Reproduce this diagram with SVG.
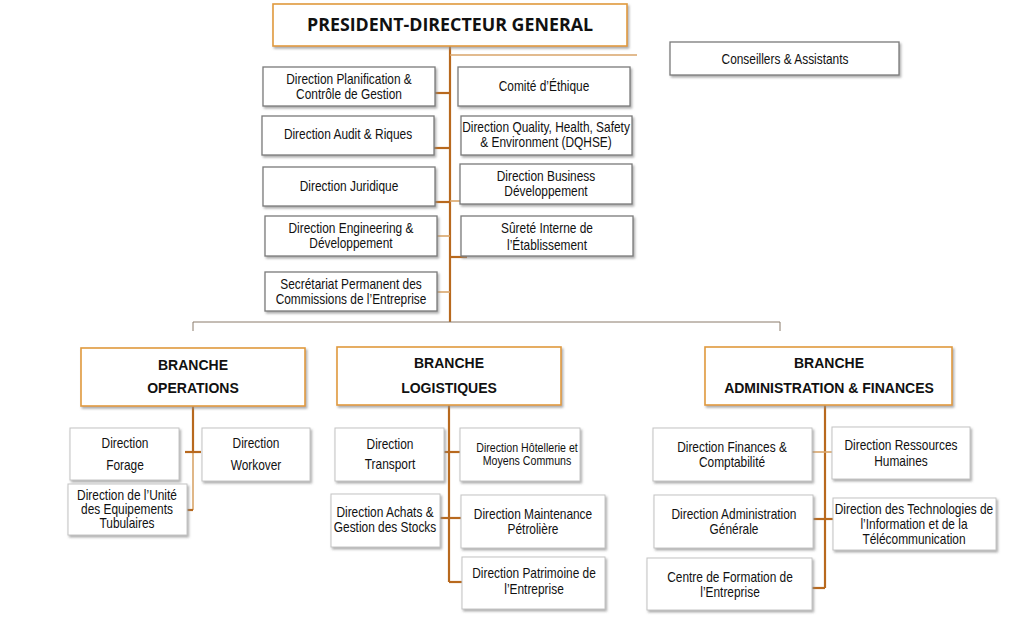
<svg xmlns="http://www.w3.org/2000/svg" width="1027" height="630" viewBox="0 0 1027 630">
<defs>
<filter id="sh" x="-10%" y="-10%" width="125%" height="140%">
<feDropShadow dx="1.5" dy="2" stdDeviation="1" flood-color="#8c8c8c" flood-opacity="0.7"/>
</filter>
<style>
.bx{fill:#fff;stroke:#7a7a7a;stroke-width:1.3;filter:url(#sh)}
.lb{fill:#fff;stroke:#c4c4c4;stroke-width:1;filter:url(#sh)}
.ob{fill:#fff;stroke:#E09A3E;stroke-width:1.6;filter:url(#sh)}
text{font-family:"Liberation Sans",Arial,sans-serif;font-size:14px;fill:#111;text-anchor:middle}
.sm{font-size:12.5px}
.bt{font-family:"Liberation Sans",Arial,sans-serif;font-weight:bold;font-size:14px}
.pt{font-family:"Open Sans","Liberation Sans",Arial,sans-serif;font-weight:bold;font-size:17px}
.tr{stroke:#B8691E;stroke-width:2.2;fill:none}
.tn{stroke:#D9A56A;stroke-width:1.6;fill:none}
.gl{stroke:#8a7a6a;stroke-width:1;fill:none}
</style>
</defs>
<g id="connectors">
<line class="tr" x1="450" y1="46" x2="450" y2="322"/>
<line class="tn" x1="450" y1="55" x2="637" y2="55"/>
<line class="tr" x1="435" y1="93" x2="450" y2="93"/>
<line class="tr" x1="434" y1="148" x2="450" y2="148"/>
<line class="tr" x1="435" y1="202" x2="450" y2="202"/>
<line class="tn" x1="450" y1="201" x2="460" y2="201"/>
<line class="tn" x1="437" y1="236" x2="450" y2="236"/>
<line class="tr" x1="450" y1="257" x2="467" y2="257"/>
<line class="tn" x1="437" y1="292" x2="450" y2="292"/>
<line class="gl" x1="193" y1="322" x2="780" y2="322"/>
<line class="gl" x1="193" y1="322" x2="193" y2="331"/>
<line class="gl" x1="780" y1="322" x2="780" y2="331"/>
<line class="tr" x1="193" y1="406" x2="193" y2="452"/>
<line class="tn" x1="193" y1="452" x2="193" y2="510"/>
<line class="tr" x1="185" y1="452" x2="201" y2="452"/>
<line class="tr" x1="187" y1="510" x2="193" y2="510"/>
<line class="tr" x1="449" y1="405" x2="449" y2="582"/>
<line class="tr" x1="444" y1="452" x2="460" y2="452"/>
<line class="tr" x1="440" y1="518" x2="461" y2="518"/>
<line class="tr" x1="449" y1="582" x2="462" y2="582"/>
<line class="tr" x1="825" y1="405" x2="825" y2="588"/>
<line class="tn" x1="812" y1="452" x2="832" y2="452"/>
<line class="tr" x1="813" y1="519" x2="833" y2="519"/>
<line class="tr" x1="812" y1="588" x2="825" y2="588"/>
</g>
<g id="pdg"><rect class="ob" x="273" y="4" width="354" height="42"/><text class="pt" x="450" y="31" textLength="286" lengthAdjust="spacingAndGlyphs">PRESIDENT-DIRECTEUR GENERAL</text></g>
<g id="conseillers"><rect class="bx" x="670" y="42" width="229" height="33"/><text transform="matrix(0.85 0 0 1 785 0)" x="0" y="64">Conseillers &amp; Assistants</text></g>
<g id="planif"><rect class="bx" x="263" y="67" width="172" height="39"/><text transform="matrix(0.85 0 0 1 349 0)" x="0" y="84">Direction Planification &amp;</text><text transform="matrix(0.85 0 0 1 349 0)" x="0" y="99">Contrôle de Gestion</text></g>
<g id="ethique"><rect class="bx" x="458" y="67" width="172" height="39"/><text transform="matrix(0.85 0 0 1 544 0)" x="0" y="91">Comité d’Éthique</text></g>
<g id="audit"><rect class="bx" x="262" y="116" width="172" height="39"/><text transform="matrix(0.85 0 0 1 348 0)" x="0" y="139">Direction Audit &amp; Riques</text></g>
<g id="dqhse"><rect class="bx" x="461" y="116" width="171" height="39"/><text transform="matrix(0.85 0 0 1 546 0)" x="0" y="132">Direction Quality, Health, Safety</text><text transform="matrix(0.85 0 0 1 546 0)" x="0" y="147">&amp; Environment (DQHSE)</text></g>
<g id="juridique"><rect class="bx" x="263" y="167" width="172" height="39"/><text transform="matrix(0.85 0 0 1 349 0)" x="0" y="191">Direction Juridique</text></g>
<g id="business"><rect class="bx" x="460" y="164" width="172" height="40"/><text transform="matrix(0.85 0 0 1 546 0)" x="0" y="181">Direction Business</text><text transform="matrix(0.85 0 0 1 546 0)" x="0" y="196">Développement</text></g>
<g id="engineering"><rect class="bx" x="265" y="216" width="172" height="40"/><text transform="matrix(0.85 0 0 1 351 0)" x="0" y="233">Direction Engineering &amp;</text><text transform="matrix(0.85 0 0 1 351 0)" x="0" y="248">Développement</text></g>
<g id="surete"><rect class="bx" x="461" y="216" width="172" height="40"/><text transform="matrix(0.85 0 0 1 547 0)" x="0" y="233">Sûreté Interne de</text><text transform="matrix(0.85 0 0 1 547 0)" x="0" y="250">l’Établissement</text></g>
<g id="secretariat"><rect class="bx" x="265" y="272" width="172" height="39"/><text transform="matrix(0.85 0 0 1 351 0)" x="0" y="289">Secrétariat Permanent des</text><text transform="matrix(0.85 0 0 1 351 0)" x="0" y="304">Commissions de l’Entreprise</text></g>
<g id="b-operations"><rect class="ob" x="81" y="348" width="224" height="58"/><text class="bt" x="193" y="370">BRANCHE</text><text class="bt" x="193" y="393">OPERATIONS</text></g>
<g id="b-logistiques"><rect class="ob" x="337" y="347" width="224" height="58"/><text class="bt" x="449" y="368">BRANCHE</text><text class="bt" x="449" y="393">LOGISTIQUES</text></g>
<g id="b-af"><rect class="ob" x="705" y="347" width="247" height="58"/><text class="bt" x="829" y="368">BRANCHE</text><text class="bt" x="829" y="393">ADMINISTRATION &amp; FINANCES</text></g>
<g id="forage"><rect class="lb" x="70" y="428" width="109" height="52"/><text transform="matrix(0.85 0 0 1 125 0)" x="0" y="448">Direction</text><text transform="matrix(0.85 0 0 1 125 0)" x="0" y="470">Forage</text></g>
<g id="workover"><rect class="lb" x="202" y="428" width="108" height="53"/><text transform="matrix(0.85 0 0 1 256 0)" x="0" y="448">Direction</text><text transform="matrix(0.85 0 0 1 256 0)" x="0" y="470">Workover</text></g>
<g id="tubulaires"><rect class="lb" x="68" y="484" width="119" height="51"/><text transform="matrix(0.85 0 0 1 127 0)" x="0" y="500">Direction de l’Unité</text><text transform="matrix(0.85 0 0 1 127 0)" x="0" y="514">des Equipements</text><text transform="matrix(0.85 0 0 1 127 0)" x="0" y="528">Tubulaires</text></g>
<g id="transport"><rect class="lb" x="335" y="428" width="109" height="53"/><text transform="matrix(0.85 0 0 1 390 0)" x="0" y="449">Direction</text><text transform="matrix(0.85 0 0 1 390 0)" x="0" y="469">Transport</text></g>
<g id="hotellerie"><rect class="lb" x="460" y="428" width="120" height="53"/><text class="sm" transform="matrix(0.85 0 0 1 527 0)" x="0" y="452">Direction Hôtellerie et</text><text class="sm" transform="matrix(0.85 0 0 1 527 0)" x="0" y="465">Moyens Communs</text></g>
<g id="achats"><rect class="lb" x="331" y="494" width="109" height="53"/><text transform="matrix(0.85 0 0 1 385 0)" x="0" y="517">Direction Achats &amp;</text><text transform="matrix(0.85 0 0 1 385 0)" x="0" y="532">Gestion des Stocks</text></g>
<g id="maintenance"><rect class="lb" x="461" y="495" width="144" height="53"/><text transform="matrix(0.85 0 0 1 533 0)" x="0" y="519">Direction Maintenance</text><text transform="matrix(0.85 0 0 1 533 0)" x="0" y="534">Pétrolière</text></g>
<g id="patrimoine"><rect class="lb" x="462" y="557" width="143" height="52"/><text transform="matrix(0.85 0 0 1 534 0)" x="0" y="578">Direction Patrimoine de</text><text transform="matrix(0.85 0 0 1 534 0)" x="0" y="594">l’Entreprise</text></g>
<g id="finances"><rect class="lb" x="653" y="428" width="159" height="53"/><text transform="matrix(0.85 0 0 1 732 0)" x="0" y="452">Direction Finances &amp;</text><text transform="matrix(0.85 0 0 1 732 0)" x="0" y="467">Comptabilité</text></g>
<g id="rh"><rect class="lb" x="832" y="427" width="138" height="52"/><text transform="matrix(0.85 0 0 1 901 0)" x="0" y="450">Direction Ressources</text><text transform="matrix(0.85 0 0 1 901 0)" x="0" y="466">Humaines</text></g>
<g id="admin"><rect class="lb" x="654" y="495" width="159" height="53"/><text transform="matrix(0.85 0 0 1 734 0)" x="0" y="519">Direction Administration</text><text transform="matrix(0.85 0 0 1 734 0)" x="0" y="534">Générale</text></g>
<g id="technologies"><rect class="lb" x="833" y="498" width="163" height="52"/><text transform="matrix(0.85 0 0 1 914 0)" x="0" y="514">Direction des Technologies de</text><text transform="matrix(0.85 0 0 1 914 0)" x="0" y="529">l’Information et de la</text><text transform="matrix(0.85 0 0 1 914 0)" x="0" y="544">Télécommunication</text></g>
<g id="formation"><rect class="lb" x="647" y="558" width="165" height="52"/><text transform="matrix(0.85 0 0 1 730 0)" x="0" y="582">Centre de Formation de</text><text transform="matrix(0.85 0 0 1 730 0)" x="0" y="597">l’Entreprise</text></g>
</svg>
